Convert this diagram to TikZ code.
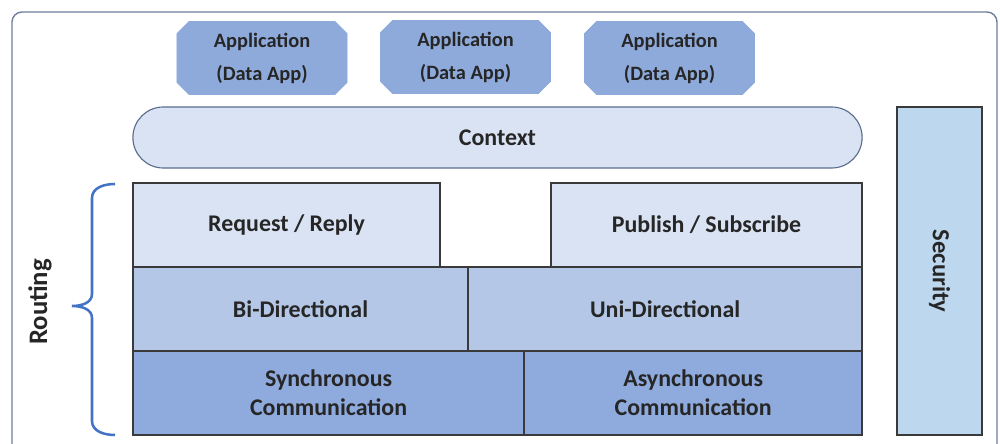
\documentclass[tikz,border=0pt]{standalone}
\usepackage{fontspec}
\setmainfont{Carlito}
\usetikzlibrary{positioning,shapes.misc}
\definecolor{frameline}{HTML}{6C7E9B}
\definecolor{ink}{HTML}{262626}
\definecolor{edge}{HTML}{3A3A3A}
\definecolor{appblue}{HTML}{8EAADB}
\definecolor{paleblue}{HTML}{DAE3F3}
\definecolor{midblue}{HTML}{B4C7E7}
\definecolor{deepblue}{HTML}{8FAADC}
\definecolor{secblue}{HTML}{BDD7EE}
\definecolor{ctxline}{HTML}{5A6D8C}
\definecolor{bracecol}{HTML}{4472C4}
\tikzset{
  app/.style={chamfered rectangle, chamfered rectangle xsep=0.15cm,
    chamfered rectangle ysep=0.15cm, fill=appblue, draw=appblue, inner sep=2pt,
    minimum width=4.25cm, minimum height=1.825cm, align=center, text=ink,
    font=\bfseries\fontsize{14.5pt}{23.5pt}\selectfont},
  ctx/.style={draw=ctxline, line width=0.8pt, rounded corners=0.76cm, fill=paleblue,
    minimum width=18.225cm, minimum height=1.525cm, text=ink,
    font=\bfseries\fontsize{17pt}{20pt}\selectfont},
  layer/.style={draw=edge, line width=1pt, minimum height=2.1cm, outer sep=0pt,
    align=center, text=ink, inner sep=0pt,
    font=\bfseries\fontsize{17pt}{20.6pt}\selectfont},
  sec/.style={draw=edge, line width=1pt, fill=secblue, rotate=-90,
    minimum width=8.2cm, minimum height=2.125cm, text=ink,
    font=\bfseries\fontsize{17.5pt}{20pt}\selectfont},
  sidelab/.style={rotate=90, text=ink, font=\bfseries\fontsize{19pt}{22pt}\selectfont},
  curly/.style={draw=bracecol, line width=1.8pt},
}
\begin{document}
\begin{tikzpicture}[x=0.025cm, y=-0.025cm]
  \clip (0,0) rectangle (1000,444);
  \fill[white] (0,0) rectangle (1000,444);
  \draw[frameline, line width=1pt, rounded corners=0.25cm] (12,12) rectangle (997,480);
  % applications
  \node[app] (app1) at (262,58) {Application\\(Data App)};
  \node[app] (app2) at (465.5,57) {Application\\(Data App)};
  \node[app] (app3) at (669.5,58) {Application\\(Data App)};
  \node[ctx] (context) at (497.5,137.5) {Context};
  \node[sec] (security) at (939.5,271) {Security};
  % layers
  \node[layer, fill=paleblue, minimum width=7.675cm, anchor=north west] (req) at (133,183) {Request / Reply};
  \node[layer, fill=paleblue, minimum width=7.775cm, anchor=north east] (pub) at (862,183) {Publish / Subscribe};
  \node[layer, fill=midblue, minimum width=8.375cm, below=0pt of req.south west, anchor=north west] (bidir) {Bi-Directional};
  \node[layer, fill=midblue, minimum width=9.85cm, right=0pt of bidir.north east, anchor=north west] (unidir) {Uni-Directional};
  \node[layer, fill=deepblue, minimum width=9.775cm, below=0pt of bidir.south west, anchor=north west] (sync) {Synchronous\\Communication};
  \node[layer, fill=deepblue, minimum width=8.45cm, right=0pt of sync.north east, anchor=north west] (async) {Asynchronous\\Communication};
  % routing brace
  \draw[curly] (115,184) to[out=180,in=90] (92,198) -- (92,294)
    to[out=-90,in=0] (72,306) to[out=0,in=90] (92,318) -- (92,421)
    to[out=-90,in=180] (115,435);
  \node[sidelab] (routing) at (40,302) {Routing};
\end{tikzpicture}
\end{document}
